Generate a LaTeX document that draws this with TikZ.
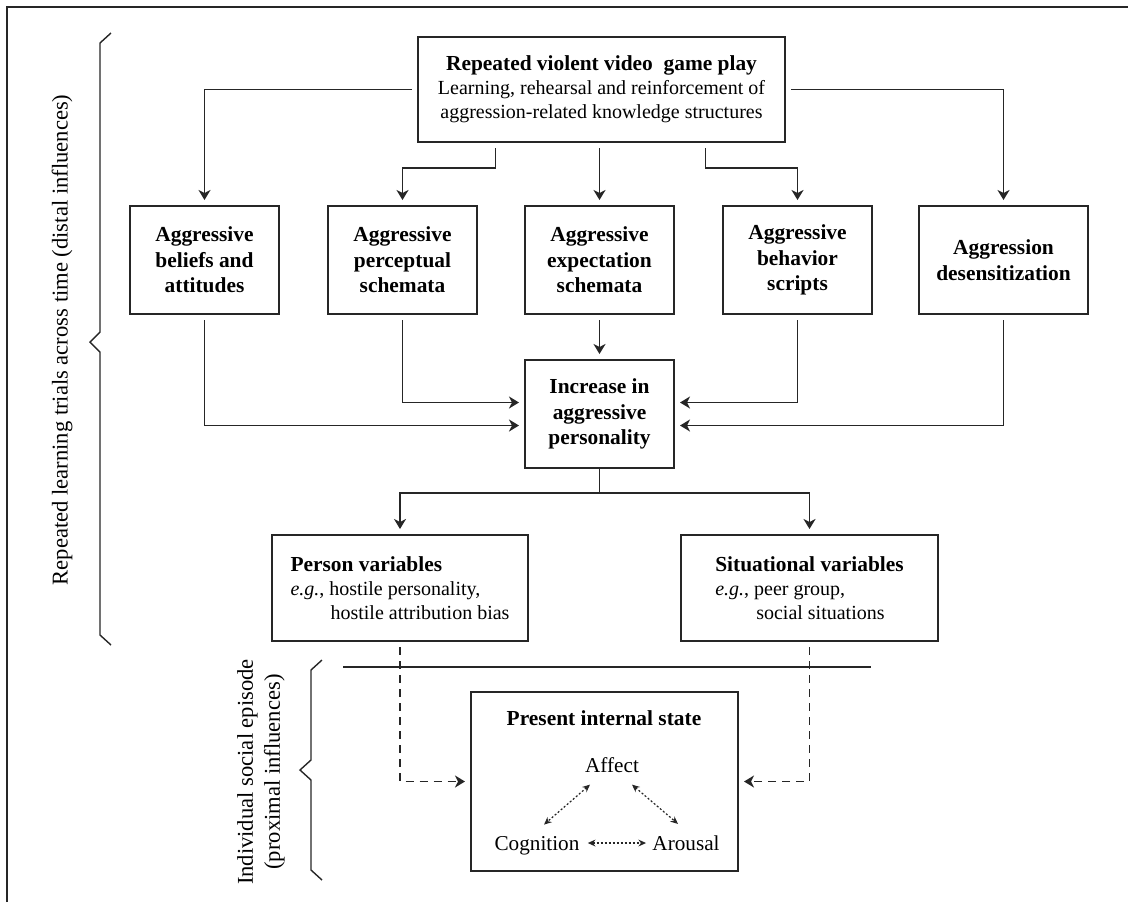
\documentclass[tikz,border=0pt]{standalone}
\usepackage{fontspec}
\setmainfont{Liberation Serif}
\usetikzlibrary{arrows.meta}
\definecolor{ink}{HTML}{262626}
\newcommand{\boxhead}[1]{{\fontsize{10.7}{12}\selectfont\bfseries #1}}

\begin{document}
\begin{tikzpicture}[x=0.5pt,y=-0.5pt,
  mybox/.style={draw=ink,line width=0.75pt,align=center,font=\fontsize{10.7}{12.8}\selectfont\bfseries,inner sep=0pt,outer sep=3pt,minimum height=54pt},
  varbox/.style={draw=ink,line width=0.75pt,align=left,inner sep=0pt,outer sep=3pt,minimum width=128pt,minimum height=53pt},
  inner/.style={anchor=base,inner sep=0pt,font=\fontsize{10.6}{12}\selectfont},
  side/.style={rotate=90,align=center,font=\fontsize{11.3}{13.5}\selectfont},
  arr/.style={draw=ink,line width=0.75pt,-{Stealth[length=5pt,width=6pt,inset=1.5pt]}},
  dasharr/.style={arr,dash pattern=on 4pt off 3pt},
  dotarr/.style={draw=ink,line width=0.6pt,dash pattern=on 1pt off 1pt,{Stealth[length=3.8pt,width=3.4pt]}-{Stealth[length=3.8pt,width=3.4pt]}},
  brace/.style={draw=ink,line width=0.7pt}]
\useasboundingbox (0,0) rectangle (1128,902);
\draw[brace] (7,902) -- (7,7) -- (1128,7);

% top box
\node[mybox,font=\normalsize,minimum width=183.5pt,minimum height=52.5pt] (vgplay) at (601.5,89.5)
  {\boxhead{Repeated violent video\ \ game play}\\Learning, rehearsal and reinforcement of\\aggression-related knowledge structures};

% knowledge structures
\foreach \nm/\px/\bw/\txt in {beliefs/204.5/74.5/{Aggressive\\beliefs and\\attitudes},
    percept/402.5/74.5/{Aggressive\\perceptual\\schemata},
    expect/599.5/74.5/{Aggressive\\expectation\\schemata},
    scripts/797.5/74.5/{Aggressive\\behavior\\scripts},
    desens/1003.5/84.5/{Aggression\\desensitization}}
  {\node[mybox,minimum width=\bw pt] (\nm) at (\px,260) {\txt};}

\node[mybox,minimum width=74.5pt] (increase) at (599.5,414) {Increase in\\aggressive\\personality};

\node[varbox] (person) at (400,588)
  {\boxhead{Person variables}\\\textit{e.g.}, hostile personality,\\\hspace*{20pt}hostile attribution bias};
\node[varbox,minimum width=128.5pt] (situation) at (809.5,588)
  {\boxhead{Situational variables}\\\textit{e.g.}, peer group,\\\hspace*{20.5pt}social situations};

% present internal state
\node[draw=ink,line width=0.75pt,minimum width=133.5pt,minimum height=89.5pt,inner sep=0pt,outer sep=3pt] (state) at (604.5,781.5) {};
\node[anchor=base] (statetitle) at (604,725) {\boxhead{Present internal state}};
\node[inner] (affect) at (612,772) {Affect};
\node[inner] (cognition) at (537,850) {Cognition};
\node[inner] (arousal) at (686,850) {Arousal};

% braces and labels
\draw[brace] (111,33) -- (100,43) -- (100,332) -- (90,342) -- (100,352) -- (100,635) -- (111,645);
\draw[brace] (322,660) -- (311,670) -- (311,760) -- (300,770) -- (311,780) -- (311,870) -- (322,880);
\node[side] (distal) at (62,340) {Repeated learning trials across time (distal influences)};
\node[side] (proximal) at (261,772) {Individual social episode\\(proximal influences)};
\coordinate (sepL) at (343,667);
\coordinate (sepR) at (871,667);
\draw[brace] (sepL) -- (sepR);

% connectors
\draw[arr] (vgplay.west) -| (beliefs.north);
\draw[arr] (vgplay.east) -| (desens.north);
\draw[arr] ([xshift=-53pt]vgplay.south) -- ++(0,20) -| (percept.north);
\draw[arr] (vgplay.south -| expect.north) -- (expect.north);
\draw[arr] ([xshift=52pt]vgplay.south) -- ++(0,20) -| (scripts.north);
\draw[arr] (beliefs.south) |- ([yshift=-5.75pt]increase.west);
\draw[arr] (percept.south) |- ([yshift=5.75pt]increase.west);
\draw[arr] (expect.south) -- (increase.north);
\draw[arr] (scripts.south) |- ([yshift=5.75pt]increase.east);
\draw[arr] (desens.south) |- ([yshift=-5.75pt]increase.east);
\draw[arr] ([yshift=3pt]increase.south) -- ++(0,25) -| (person.north);
\draw[arr] ([yshift=3pt]increase.south) -- ++(0,25) -| (situation.north);
\draw[dasharr] (person.south) |- (state.west);
\draw[dasharr] (situation.south) |- (state.east);
\draw[dotarr] ([xshift=-11pt,yshift=-6pt]affect.south) -- ([xshift=3.5pt,yshift=5.5pt]cognition.north);
\draw[dotarr] ([xshift=10pt,yshift=-6pt]affect.south) -- ([xshift=-4pt,yshift=5.5pt]arousal.north);
\draw[dotarr] ([xshift=4pt,yshift=3.5pt]cognition.base east) -- ([xshift=-3pt,yshift=3.5pt]arousal.base west);
\end{tikzpicture}
\end{document}
